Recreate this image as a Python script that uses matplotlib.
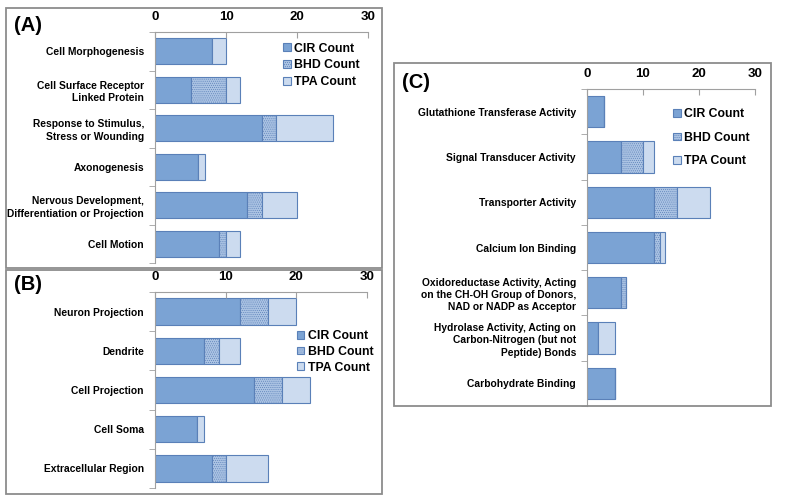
"""Three stacked horizontal bar panels (A, B, C): CIR / BHD / TPA counts per GO term."""
import matplotlib
matplotlib.use("Agg")
import matplotlib.pyplot as plt
from matplotlib.patches import Rectangle
import numpy as np

plt.rcParams["font.family"] = ["Liberation Sans", "DejaVu Sans"]
plt.rcParams["font.weight"] = "bold"
plt.rcParams["hatch.linewidth"] = 0.4

# ---- data ----
terms_a = ["Cell Morphogenesis", "Cell Surface Receptor\nLinked Protein",
           "Response to Stimulus,\nStress or Wounding", "Axonogenesis",
           "Nervous Development,\nDifferentiation or Projection", "Cell Motion"]
cir_a = [8, 5, 15, 6, 13, 9]
bhd_a = [0, 5, 2, 0, 2, 1]
tpa_a = [2, 2, 8, 1, 5, 2]

terms_b = ["Neuron Projection", "Dendrite", "Cell Projection", "Cell Soma",
           "Extracellular Region"]
cir_b = [12, 7, 14, 6, 8]
bhd_b = [4, 2, 4, 0, 2]
tpa_b = [4, 3, 4, 1, 6]

terms_c = ["Glutathione Transferase Activity", "Signal Transducer Activity",
           "Transporter Activity", "Calcium Ion Binding",
           "Oxidoreductase Activity, Acting\non the CH-OH Group of Donors,\nNAD or NADP as Acceptor",
           "Hydrolase Activity, Acting on\nCarbon-Nitrogen (but not\nPeptide) Bonds",
           "Carbohydrate Binding"]
cir_c = [3, 6, 12, 12, 6, 2, 5]
bhd_c = [0, 4, 4, 1, 1, 0, 0]
tpa_c = [0, 2, 6, 1, 0, 3, 0]

series_names = ["CIR Count", "BHD Count", "TPA Count"]
xticks = [0, 10, 20, 30]

C_CIR = "#7BA3D4"
C_BHD = "#ABC3E3"
C_TPA = "#CCDBEF"
C_EDGE = "#5A80B8"
C_GRID = "#A0A0A0"

W, H = 800, 500
fig = plt.figure(figsize=(8, 5), dpi=100)


def frac(x0, y0, x1, y1):
    # pixel box (top-left origin) -> figure fraction rect
    return [x0 / W, 1 - y1 / H, (x1 - x0) / W, (y1 - y0) / H]


def box(x0, y0, x1, y1):
    fig.patches.append(Rectangle((x0 / W, 1 - y1 / H), (x1 - x0) / W, (y1 - y0) / H,
                                 transform=fig.transFigure, fill=False,
                                 edgecolor="#8C8C8C", linewidth=1.3))


def panel(rect, terms, cir, bhd, tpa, bar_h, leg_anchor, leg_spacing):
    ax = fig.add_axes(rect)
    y = np.arange(len(terms))
    cir = np.array(cir); bhd = np.array(bhd); tpa = np.array(tpa)
    ax.barh(y, cir, height=bar_h, color=C_CIR, edgecolor=C_EDGE, lw=0.8,
            label=series_names[0])
    ax.barh(y, bhd, left=cir, height=bar_h, color=C_BHD, edgecolor=C_EDGE,
            hatch="........", lw=0.8, label=series_names[1])
    ax.barh(y, tpa, left=cir + bhd, height=bar_h, color=C_TPA, edgecolor=C_EDGE,
            lw=0.8, label=series_names[2])
    ax.set_ylim(len(terms) - 0.5, -0.5)
    ax.set_xlim(0, 30)
    ax.xaxis.tick_top()
    ax.set_xticks(xticks)
    ax.set_xticklabels([str(t) for t in xticks], fontsize=9.5, fontweight="bold")
    ax.tick_params(axis="x", length=4, color=C_GRID, pad=6.5, direction="in")
    ax.set_yticks(y)
    ax.set_yticklabels(terms, fontsize=7.4, fontweight="bold", linespacing=1.3)
    ax.tick_params(axis="y", length=0, pad=8)
    ax.set_yticks(np.arange(len(terms) + 1) - 0.5, minor=True)
    ax.tick_params(axis="y", which="minor", length=4, color=C_GRID)
    for s in ["right", "bottom"]:
        ax.spines[s].set_visible(False)
    for s in ["top", "left"]:
        ax.spines[s].set_color(C_GRID)
        ax.spines[s].set_linewidth(0.8)
    ax.legend(loc="upper left", bbox_to_anchor=leg_anchor, frameon=False,
              prop={"size": 8.8, "weight": "bold"}, handlelength=0.6,
              handleheight=0.6, handletextpad=0.3, labelspacing=leg_spacing,
              borderaxespad=0)
    return ax


# panel A
box(6, 8, 382, 268)
panel(frac(155, 32, 368, 263), terms_a, cir_a, bhd_a, tpa_a, 0.68,
      (0.58, 0.975), 0.38)
fig.text(14 / W, 1 - 25.5 / H, "(A)", fontsize=14.5, fontweight="bold", va="center")

# panel B
box(6, 270, 382, 494)
panel(frac(155, 292, 367, 488), terms_b, cir_b, bhd_b, tpa_b, 0.67,
      (0.645, 0.83), 0.3)
fig.text(14 / W, 1 - 284 / H, "(B)", fontsize=14.5, fontweight="bold", va="center")

# panel C
box(394, 63, 771, 406)
panel(frac(587, 89, 755, 406), terms_c, cir_c, bhd_c, tpa_c, 0.69,
      (0.485, 0.955), 0.95)
fig.text(402 / W, 1 - 82 / H, "(C)", fontsize=14.5, fontweight="bold", va="center")

fig.savefig("out.png", dpi=100)
plt.close(fig)
